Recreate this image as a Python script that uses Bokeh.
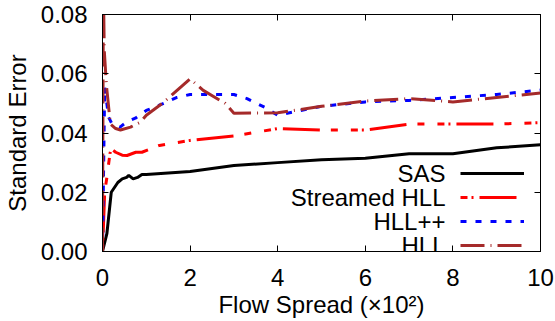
from bokeh.plotting import figure
from bokeh.models import (Range1d, LinearAxis, FixedTicker, NumeralTickFormatter,
                          Legend, LegendItem, Label, CustomLabelingPolicy)
from bokeh.embed import file_html
from bokeh.resources import INLINE

# ---------------- data ----------------
sas_x = [0, 0.1, 0.2, 0.35, 0.45, 0.55, 0.6, 0.7, 0.8, 0.9, 1, 2, 3, 4, 5, 6, 7, 8, 9, 10]
sas_y = [0.0, 0.006, 0.020, 0.0233, 0.0245, 0.025, 0.0257, 0.0245, 0.025, 0.026, 0.026,
         0.027, 0.029, 0.030, 0.031, 0.0315, 0.033, 0.033, 0.035, 0.036]

shll_x = [0, 0.05, 0.1, 0.17, 0.2, 0.3, 0.45, 0.56, 0.76, 0.9, 1.3, 2, 3, 4, 5, 6, 7, 8, 9, 10]
shll_y = [0.0, 0.02, 0.025, 0.033, 0.0347, 0.0335, 0.0325, 0.0324, 0.0335, 0.0335, 0.0358,
          0.0375, 0.039, 0.0415, 0.041, 0.041, 0.043, 0.043, 0.043, 0.0435]

hllpp_x = [0, 0.05, 0.14, 0.22, 0.4, 0.55, 0.75, 1.0, 1.4, 1.7, 2, 2.5, 3, 3.3, 3.7, 4,
           5, 6, 7, 8, 9, 10]
hllpp_y = [0.0, 0.0555, 0.0453, 0.043, 0.042, 0.0437, 0.045, 0.0476, 0.050, 0.052, 0.053,
           0.053, 0.053, 0.0516, 0.0487, 0.046, 0.049, 0.0505, 0.051, 0.052, 0.053, 0.0545]

hll_x = [0, 0.02, 0.04, 0.09, 0.18, 0.3, 0.41, 0.64, 0.87, 1.0, 1.4, 2.0, 2.3, 2.8, 3.0,
         4.0, 5, 6, 7, 8, 9, 10]
hll_y = [0.0, 0.09, 0.068, 0.056, 0.043, 0.0415, 0.041, 0.042, 0.0437, 0.046, 0.0504,
         0.0583, 0.0544, 0.050, 0.0467, 0.0468, 0.049, 0.0508, 0.0516, 0.0505, 0.052, 0.0535]

x_ticks = [0, 2, 4, 6, 8, 10]
y_ticks = [0.00, 0.02, 0.04, 0.06, 0.08]
series_names = ["SAS", "Streamed HLL", "HLL++", "HLL"]

FONT = "Liberation Sans"
FS = "24px"

p = figure(width=555, height=321, output_backend="svg", toolbar_location=None,
           x_range=Range1d(0, 10), y_range=Range1d(0, 0.08),
           min_border_left=102, min_border_right=15, min_border_top=14, min_border_bottom=70,
           x_axis_label="Flow Spread (×10²)", y_axis_label="Standard Error")
p.grid.visible = False
p.outline_line_color = "black"
p.outline_line_width = 1
p.background_fill_color = "white"
p.border_fill_color = "white"

xt = FixedTicker(ticks=x_ticks)
yt = FixedTicker(ticks=y_ticks)

for ax in p.xaxis:
    ax.ticker = xt
    ax.major_label_standoff = 17
    ax.axis_label_standoff = 2
for ax in p.yaxis:
    ax.ticker = yt
    ax.formatter = NumeralTickFormatter(format="0.00")
    ax.major_label_standoff = 15
    ax.axis_label_standoff = 7
for ax in p.xaxis + p.yaxis:
    ax.major_tick_in = 6
    ax.major_tick_out = 0
    ax.minor_tick_line_color = None
    ax.major_label_text_font = FONT
    ax.major_label_text_font_size = FS
    ax.major_label_text_color = "black"
    ax.axis_label_text_font = FONT
    ax.axis_label_text_font_size = FS
    ax.axis_label_text_font_style = "normal"
    ax.axis_label_text_color = "black"
    ax.axis_line_color = "black"
    ax.major_tick_line_color = "black"

no_labels = CustomLabelingPolicy(
    code="for (const i of [...indices]) { indices.unset(i) }\nreturn indices")
top_ax = LinearAxis(ticker=xt, major_label_text_font_size="1px", major_label_standoff=0,
                    major_label_policy=no_labels,
                    major_tick_in=6, major_tick_out=0, minor_tick_line_color=None)
right_ax = LinearAxis(ticker=yt, major_label_text_font_size="1px", major_label_standoff=0,
                      major_label_policy=no_labels,
                      major_tick_in=6, major_tick_out=0, minor_tick_line_color=None)
p.add_layout(top_ax, "above")
p.add_layout(right_ax, "right")

r_sas = p.line(sas_x, sas_y, line_color="black", line_width=3)
r_shll = p.line(shll_x, shll_y, line_color="#ff0000", line_width=3,
                line_dash="37 11 7 13 7 4 2 6", line_dash_offset=68)
r_hllpp = p.line(hllpp_x, hllpp_y, line_color="#0000ff", line_width=3, line_dash="6 9")
r_hll = p.line(hll_x, hll_y, line_color="#a52a2a", line_width=3, line_dash="24 6 1 6")

renderers = [r_sas, r_shll, r_hllpp, r_hll]
legend = Legend(items=[LegendItem(label=" ", renderers=[r]) for r in renderers],
                location=(358, -6), glyph_width=64, glyph_height=24, label_height=24,
                label_text_font_size="10px", spacing=0, padding=0, margin=0,
                label_standoff=0, border_line_color=None, background_fill_alpha=0)
p.add_layout(legend)

row_y = [78, 54, 30, 6]
for name, yy in zip(series_names, row_y):
    p.add_layout(Label(x=343, y=yy, x_units="screen", y_units="screen", text=name,
                       text_align="right", text_baseline="middle", text_font=FONT,
                       text_font_size=FS, text_color="black"))

open("out.html", "w").write(file_html(p, INLINE))
